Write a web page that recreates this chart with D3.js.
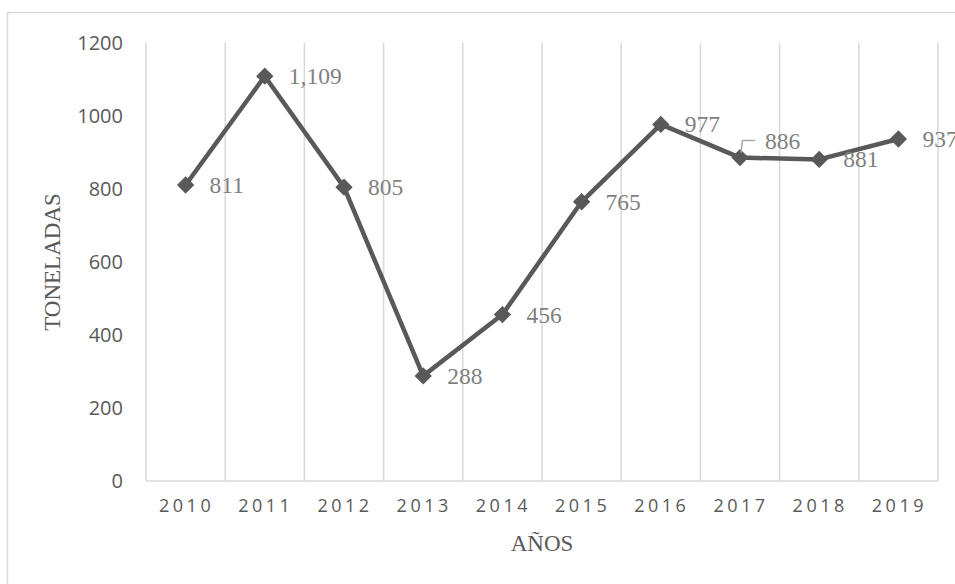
<!DOCTYPE html>
<html>
<head>
<meta charset="utf-8">
<script src="https://cdn.jsdelivr.net/npm/d3@7"></script>
<style>
  html, body { margin: 0; padding: 0; background: #fff; }
  svg { display: block; }
</style>
</head>
<body>
<svg id="chart" width="955" height="584"></svg>
<script>
const years = ["2010","2011","2012","2013","2014","2015","2016","2017","2018","2019"];
const toneladas = [811, 1109, 805, 288, 456, 765, 977, 886, 881, 937];
const labelsTxt = ["811","1,109","805","288","456","765","977","886","881","937"];
const yTicks = [0, 200, 400, 600, 800, 1000, 1200];

const svg = d3.select("#chart");
const m = { left: 146, right: 938, top: 43, bottom: 481 };

// outer border
svg.append("rect")
  .attr("x", 7.5).attr("y", 12.5)
  .attr("width", 1000).attr("height", 700)
  .attr("fill", "none").attr("stroke", "#d9d9d9").attr("stroke-width", 1.5);

const x = d3.scaleBand().domain(years).range([m.left, m.right]).paddingInner(0).paddingOuter(0);
const y = d3.scaleLinear().domain([0, 1200]).range([m.bottom, m.top]);

// vertical gridlines at category boundaries
const bounds = years.map(d => x(d)).concat([x(years[years.length - 1]) + x.bandwidth()]);
svg.append("g").selectAll("line").data(bounds).join("line")
  .attr("x1", d => d).attr("x2", d => d)
  .attr("y1", y(1200)).attr("y2", y(0))
  .attr("stroke", "#d9d9d9").attr("stroke-width", 1.5);

// baseline
svg.append("line")
  .attr("x1", m.left).attr("x2", m.right)
  .attr("y1", y(0)).attr("y2", y(0))
  .attr("stroke", "#d9d9d9").attr("stroke-width", 1.5);

// y axis labels
const yAxis = d3.axisLeft(y).tickValues(yTicks).tickFormat(d3.format("d")).tickSize(0).tickPadding(23);
const gy = svg.append("g").attr("transform", `translate(${m.left},0)`).call(yAxis);
gy.select(".domain").remove();
gy.selectAll("text")
  .attr("font-family", "'Open Sans', sans-serif")
  .attr("font-size", 20)
  .attr("fill", "#595959");

// x axis labels
const xAxis = d3.axisBottom(x).tickSize(0).tickPadding(18);
const gx = svg.append("g").attr("transform", `translate(0,${y(0)})`).call(xAxis);
gx.select(".domain").remove();
gx.selectAll("text")
  .attr("font-family", "'Open Sans', sans-serif")
  .attr("font-size", 18)
  .attr("letter-spacing", "3.5px")
  .attr("dx", "1px")
  .attr("fill", "#595959");

// axis titles
svg.append("text")
  .attr("x", (m.left + m.right) / 2).attr("y", 551)
  .attr("text-anchor", "middle")
  .attr("font-family", "'Liberation Serif', 'Times New Roman', serif")
  .attr("font-size", 23)
  .attr("fill", "#595959")
  .text("AÑOS");

svg.append("text")
  .attr("transform", `translate(60,${(m.top + m.bottom) / 2}) rotate(-90)`)
  .attr("text-anchor", "middle")
  .attr("font-family", "'Liberation Serif', 'Times New Roman', serif")
  .attr("font-size", 23)
  .attr("fill", "#595959")
  .text("TONELADAS");

const cx = d => x(d) + x.bandwidth() / 2;
const data = years.map((d, i) => ({ year: d, v: toneladas[i], label: labelsTxt[i] }));

// line
const line = d3.line().x(d => cx(d.year)).y(d => y(d.v));
svg.append("path").datum(data)
  .attr("d", line)
  .attr("fill", "none")
  .attr("stroke", "#595959")
  .attr("stroke-width", 4.5)
  .attr("stroke-linejoin", "round");

// markers
svg.append("g").selectAll("path").data(data).join("path")
  .attr("d", d3.symbol(d3.symbolSquare, 150))
  .attr("transform", d => `translate(${cx(d.year)},${y(d.v)}) rotate(45)`)
  .attr("fill", "#595959");

// data labels (one label shifted up with leader line, as in the original)
const shifted = "2017";
const shiftDx = 1, shiftDy = -17;
svg.append("g").selectAll("text").data(data).join("text")
  .attr("x", d => cx(d.year) + (d.year === shifted ? shiftDx : 0) + 24)
  .attr("y", d => y(d.v) + (d.year === shifted ? shiftDy : 0))
  .attr("dy", "0.34em")
  .attr("font-family", "'Liberation Serif', 'Times New Roman', serif")
  .attr("font-size", 23.5)
  .attr("fill", "#7f7f7f")
  .text(d => d.label);

// leader line
const sd = data.find(d => d.year === shifted);
const lx = cx(sd.year), ly = y(sd.v);
svg.append("path")
  .attr("d", `M${lx + 1},${ly - 5} L${lx + 2.5},${ly + shiftDy} L${lx + 15},${ly + shiftDy}`)
  .attr("fill", "none")
  .attr("stroke", "#a6a6a6")
  .attr("stroke-width", 1.5);
</script>
</body>
</html>
